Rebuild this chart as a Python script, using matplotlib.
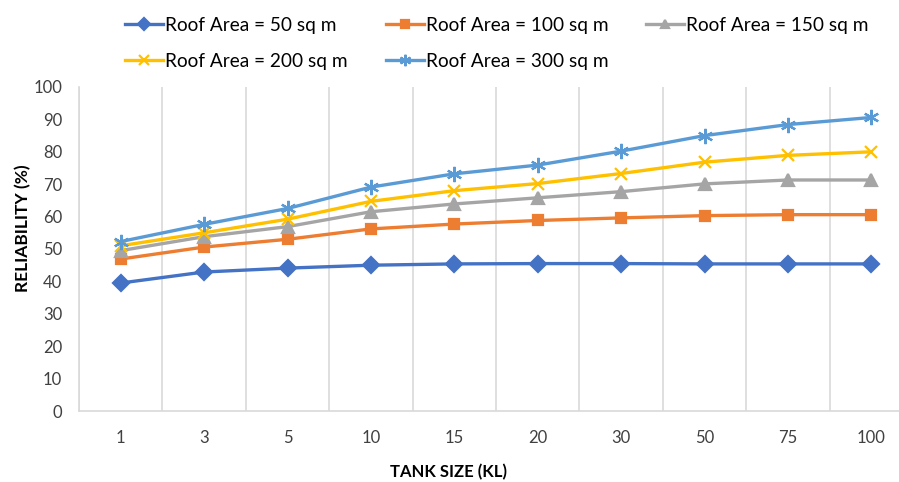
import matplotlib
matplotlib.use("Agg")
import matplotlib.pyplot as plt
import numpy as np

plt.rcParams["font.family"] = ["Lato", "DejaVu Sans"]

tank_sizes = ["1", "3", "5", "10", "15", "20", "30", "50", "75", "100"]
roof_50 = [39.5, 42.9, 44.1, 45.0, 45.4, 45.5, 45.5, 45.4, 45.4, 45.4]
roof_100 = [46.9, 50.6, 53.0, 56.2, 57.7, 58.8, 59.6, 60.3, 60.6, 60.6]
roof_150 = [49.5, 53.8, 56.9, 61.5, 63.9, 65.8, 67.7, 70.1, 71.3, 71.3]
roof_200 = [51.0, 55.0, 59.2, 64.7, 68.0, 70.2, 73.3, 76.8, 78.9, 80.0]
roof_300 = [52.3, 57.6, 62.5, 69.1, 73.2, 75.9, 80.2, 85.0, 88.4, 90.6]

series = [
    ("Roof Area = 50 sq m", roof_50, "#4472C4", "D", 8),
    ("Roof Area = 100 sq m", roof_100, "#ED7D31", "s", 7),
    ("Roof Area = 150 sq m", roof_150, "#A5A5A5", "^", 8.5),
    ("Roof Area = 200 sq m", roof_200, "#FFC000", "x", 9),
    ("Roof Area = 300 sq m", roof_300, "#5B9BD5", (6, 2, 0), 11),
]

W, H = 899, 482
fig = plt.figure(figsize=(W / 100, H / 100), dpi=100)
left, right, top, bottom = 79, 913, 87, 411
ax = fig.add_axes([left / W, 1 - bottom / H, (right - left) / W, (bottom - top) / H])

x = np.arange(len(tank_sizes))
handles = []
for label, vals, color, marker, ms in series:
    (h,) = ax.plot(x, vals, color=color, lw=2.4, marker=marker, ms=ms,
                   mew=1.6, label=label, zorder=3)
    handles.append(h)

ax.set_xlim(-0.5, len(tank_sizes) - 0.5)
ax.set_ylim(0, 100)
ax.set_yticks(range(0, 101, 10))
ax.set_xticks(x)
ax.set_xticklabels(tank_sizes)
ax.set_xticks(np.arange(-0.5, len(tank_sizes)), minor=True)
ax.grid(True, axis="x", which="minor", color="#D9D9D9", lw=1.2)
ax.tick_params(axis="both", which="both", length=0, labelsize=12, colors="#404040")
ax.tick_params(axis="y", pad=12)
ax.tick_params(axis="x", pad=14)
for s in ["top", "right"]:
    ax.spines[s].set_visible(False)
for s in ["left", "bottom"]:
    ax.spines[s].set_color("#D9D9D9")
    ax.spines[s].set_linewidth(1.2)

ax.set_xlabel("TANK SIZE (KL)", fontsize=12, fontweight="bold", color="#000000")
ax.xaxis.set_label_coords((448 - left) / (right - left), -(464 - bottom) / (bottom - top))
ax.set_ylabel("RELIABILITY (%)", fontsize=12.5, fontweight="bold", color="#000000")
ax.yaxis.set_label_coords(-(left - 31) / (right - left), (bottom - 228) / (bottom - top))

# excel fills the legend row by row, matplotlib column by column
order = [0, 3, 1, 4, 2]
fig.legend([handles[i] for i in order], [series[i][0] for i in order],
           ncol=3, loc="upper left", bbox_to_anchor=(108 / W, 1.0),
           frameon=False, fontsize=13.7, handlelength=2.0, handletextpad=0.1,
           columnspacing=2.0, labelspacing=1.0, markerscale=0.75)

fig.savefig("out.png", dpi=100)
